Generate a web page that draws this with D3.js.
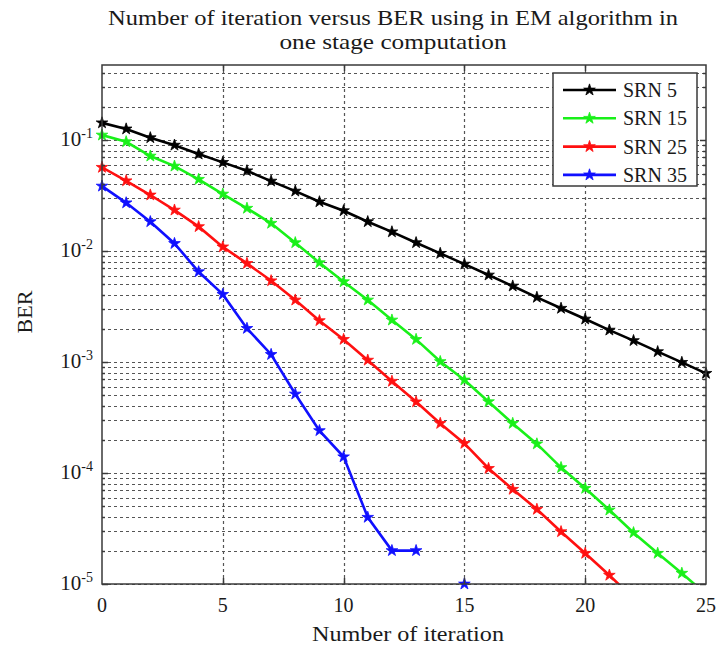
<!DOCTYPE html>
<html>
<head>
<meta charset="utf-8">
<script src="https://cdn.jsdelivr.net/npm/d3@7/dist/d3.min.js"></script>
<style>
    body { margin: 0; background: #fff; }
    text { font-family: "Liberation Serif", "Times New Roman", serif; fill: #1a1a1a; }
</style>
</head>
<body>
<div id="berSvgContainerId"></div>
<script>

// Chart data

var iterations = [0, 1, 2, 3, 4, 5, 6, 7, 8, 9, 10, 11, 12, 13, 14, 15, 16, 17, 18, 19, 20, 21, 22, 23, 24, 25];

var srn5Ber  = [0.143, 0.126, 0.105, 0.090, 0.0748, 0.0630, 0.0529, 0.0427, 0.0347, 0.0278, 0.0231, 0.0184, 0.0149,
                0.0119, 0.00953, 0.00763, 0.00608, 0.00484, 0.00383, 0.00305, 0.00244, 0.00194, 0.00156, 0.00124, 0.000993, 0.000791];

var srn15Ber = [0.111, 0.0966, 0.0718, 0.0583, 0.0443, 0.0326, 0.0243, 0.0178, 0.0119, 0.00785, 0.00529, 0.00362, 0.00239,
                0.00160, 0.00101, 0.000689, 0.000439, 0.000280, 0.000183, 0.000112, 0.0000728, 0.0000464, 0.0000290, 0.0000189, 0.0000125, 0.0000081];

var srn25Ber = [0.0568, 0.0430, 0.0320, 0.0234, 0.0166, 0.0109, 0.00774, 0.00540, 0.00362, 0.00236, 0.00160, 0.00104, 0.000671,
                0.000438, 0.000280, 0.000185, 0.000110, 0.0000713, 0.0000471, 0.0000296, 0.0000189, 0.0000120, 0.0000074, null, null, null];

var srn35Ber = [0.0385, 0.0272, 0.0184, 0.0117, 0.00651, 0.00407, 0.00201, 0.00117, 0.000515, 0.000241, 0.000140, 0.0000399, 0.00002,
                0.00002, null, 0.00001, null, null, null, null, null, null, null, null, null, null];

var seriesNames  = ["SRN 5", "SRN 15", "SRN 25", "SRN 35"];
var seriesColors = ["#000000", "#19f019", "#ff1010", "#1010ff"];

var xTickValues = [0, 5, 10, 15, 20, 25];
var yTickExponents = [-1, -2, -3, -4, -5];

var chartTitleLines = ["Number of iteration versus BER using in EM algorithm in", "one stage computation"];
var xAxisTitle = "Number of iteration";
var yAxisTitle = "BER";


(function() {

    "use strict";

    var full = {w: 716, h: 647};
    var plot = {left: 102, right: 706, top: 65, bottom: 584};

    var svg = d3.select("#berSvgContainerId")
                .append("svg")
                .attr("width", full.w)
                .attr("height", full.h);

    var xScale = d3.scaleLinear()
                   .domain([0, 25])
                   .range([plot.left, plot.right]);

    var yScale = d3.scaleLog()
                   .domain([1e-5, 0.475])
                   .range([plot.bottom, plot.top]);

    var allSeries = [srn5Ber, srn15Ber, srn25Ber, srn35Ber].map(function(values, i) {
        return {
            name: seriesNames[i],
            color: seriesColors[i],
            points: iterations.map(function(it, j) { return {x: it, ber: values[j]}; })
        };
    });

    svg.append("defs").append("clipPath").attr("id", "plotClipId")
       .append("rect")
         .attr("x", plot.left).attr("y", plot.top)
         .attr("width", plot.right - plot.left).attr("height", plot.bottom - plot.top);

    addGrid();
    addSeries();
    addFrameAndTicks();
    addLabels();
    addLegend();


    function minorTickValues() {
        var vals = [];
        for (var e = -5; e <= 0; e++) {
            for (var m = 1; m <= 9; m++) {
                var v = m * Math.pow(10, e);
                if (v >= 1e-5 && v <= yScale.domain()[1]) { vals.push(v); }
            }
        }
        return vals;
    }


    function addGrid() {
        var gridGroup = svg.append("g").attr("id", "gridGroupId")
                           .attr("stroke", "#555")
                           .attr("stroke-width", 1.2)
                           .attr("stroke-dasharray", "3,3");

        gridGroup.selectAll("line.hgrid")
           .data(minorTickValues())
           .enter()
           .append("line")
             .attr("class", "hgrid")
             .attr("x1", plot.left).attr("x2", plot.right)
             .attr("y1", function(d) { return Math.round(yScale(d)) + 0.5; })
             .attr("y2", function(d) { return Math.round(yScale(d)) + 0.5; });

        gridGroup.selectAll("line.vgrid")
           .data(xTickValues.slice(1, -1))
           .enter()
           .append("line")
             .attr("class", "vgrid")
             .attr("y1", plot.top).attr("y2", plot.bottom)
             .attr("x1", function(d) { return Math.round(xScale(d)) + 0.5; })
             .attr("x2", function(d) { return Math.round(xScale(d)) + 0.5; });
    }


    function addSeries() {
        var line = d3.line()
                     .defined(function(d) { return d.ber !== null; })
                     .x(function(d) { return xScale(d.x); })
                     .y(function(d) { return yScale(d.ber); });

        var seriesGroup = svg.append("g").attr("id", "seriesGroupId");

        seriesGroup.selectAll("path.ber-line")
           .data(allSeries)
           .enter()
           .append("path")
             .attr("class", "ber-line")
             .attr("clip-path", "url(#plotClipId)")
             .attr("fill", "none")
             .attr("stroke", function(d) { return d.color; })
             .attr("stroke-width", 2.6)
             .attr("d", function(d) { return line(d.points); });

        var star = d3.symbol().type(d3.symbolStar).size(42);

        allSeries.forEach(function(s) {
            seriesGroup.append("g")
               .selectAll("path")
               .data(s.points.filter(function(p) { return p.ber !== null && p.ber >= 1e-5; }))
               .enter()
               .append("path")
                 .attr("d", star)
                 .attr("fill", s.color)
                 .attr("stroke", s.color)
                 .attr("stroke-width", 0.8)
                 .attr("transform", function(p) { return "translate(" + xScale(p.x) + "," + yScale(p.ber) + ")"; });
        });
    }


    function addFrameAndTicks() {
        var frame = svg.append("g").attr("id", "frameGroupId")
                       .attr("stroke", "#3a3a3a")
                       .attr("stroke-width", 1.5)
                       .attr("fill", "none");

        frame.append("rect")
             .attr("x", plot.left).attr("y", plot.top)
             .attr("width", plot.right - plot.left).attr("height", plot.bottom - plot.top);

        // x ticks, bottom and top
        xTickValues.slice(1, -1).forEach(function(v) {
            var x = Math.round(xScale(v)) + 0.5;
            frame.append("line").attr("x1", x).attr("x2", x).attr("y1", plot.bottom).attr("y2", plot.bottom - 6);
            frame.append("line").attr("x1", x).attr("x2", x).attr("y1", plot.top).attr("y2", plot.top + 6);
        });

        // y ticks, major and minor, left and right
        minorTickValues().forEach(function(v) {
            var y = Math.round(yScale(v)) + 0.5;
            var isMajor = Math.abs(Math.log10(v) - Math.round(Math.log10(v))) < 1e-9;
            var len = isMajor ? 6 : 3;
            frame.append("line").attr("x1", plot.left).attr("x2", plot.left + len).attr("y1", y).attr("y2", y);
            frame.append("line").attr("x1", plot.right).attr("x2", plot.right - len).attr("y1", y).attr("y2", y);
        });
    }


    function addLabels() {
        var xLabels = svg.append("g").attr("id", "xTickLabelGroupId");
        xLabels.selectAll("text")
           .data(xTickValues)
           .enter()
           .append("text")
             .attr("x", function(d) { return xScale(d); })
             .attr("y", plot.bottom + 28)
             .attr("text-anchor", "middle")
             .attr("font-size", 20)
             .text(function(d) { return d; });

        var yLabels = svg.append("g").attr("id", "yTickLabelGroupId");
        yTickExponents.forEach(function(e) {
            var t = yLabels.append("text")
                           .attr("x", plot.left - 9)
                           .attr("y", yScale(Math.pow(10, e)) + 6)
                           .attr("text-anchor", "end")
                           .attr("font-size", 21);
            t.append("tspan").text("10");
            t.append("tspan").attr("dy", -8).attr("font-size", 14).text(String(e));
        });

        svg.append("text")
           .attr("x", 408)
           .attr("y", plot.bottom + 57)
           .attr("text-anchor", "middle")
           .attr("font-size", 22)
           .attr("textLength", 192)
           .attr("lengthAdjust", "spacingAndGlyphs")
           .text(xAxisTitle);

        svg.append("text")
           .attr("transform", "translate(32,312) rotate(-90)")
           .attr("text-anchor", "middle")
           .attr("font-size", 22)
           .text(yAxisTitle);

        var titleWidths = [570, 227];
        svg.append("g").attr("id", "titleGroupId")
           .selectAll("text")
           .data(chartTitleLines)
           .enter()
           .append("text")
             .attr("x", 393)
             .attr("y", function(d, i) { return 25 + i * 24; })
             .attr("text-anchor", "middle")
             .attr("font-size", 21)
             .attr("textLength", function(d, i) { return titleWidths[i]; })
             .attr("lengthAdjust", "spacingAndGlyphs")
             .text(function(d) { return d; });
    }


    function addLegend() {
        var box = {x: 553, y: 73, w: 144, h: 113};
        var legend = svg.append("g").attr("id", "legendGroupId");

        legend.append("rect")
              .attr("x", box.x).attr("y", box.y)
              .attr("width", box.w).attr("height", box.h)
              .attr("fill", "#fff")
              .attr("stroke", "#3a3a3a")
              .attr("stroke-width", 1.5);

        var star = d3.symbol().type(d3.symbolStar).size(42);

        allSeries.forEach(function(s, i) {
            var y = box.y + 17 + i * 28.3;
            legend.append("line")
                  .attr("x1", box.x + 10).attr("x2", box.x + 63)
                  .attr("y1", y).attr("y2", y)
                  .attr("stroke", s.color).attr("stroke-width", 2.6);
            legend.append("path")
                  .attr("d", star)
                  .attr("fill", s.color).attr("stroke", s.color).attr("stroke-width", 0.8)
                  .attr("transform", "translate(" + (box.x + 36.5) + "," + y + ")");
            legend.append("text")
                  .attr("x", box.x + 70)
                  .attr("y", y + 7)
                  .attr("font-size", 20)
                  .text(s.name);
        });
    }

})();

</script>
</body>
</html>
